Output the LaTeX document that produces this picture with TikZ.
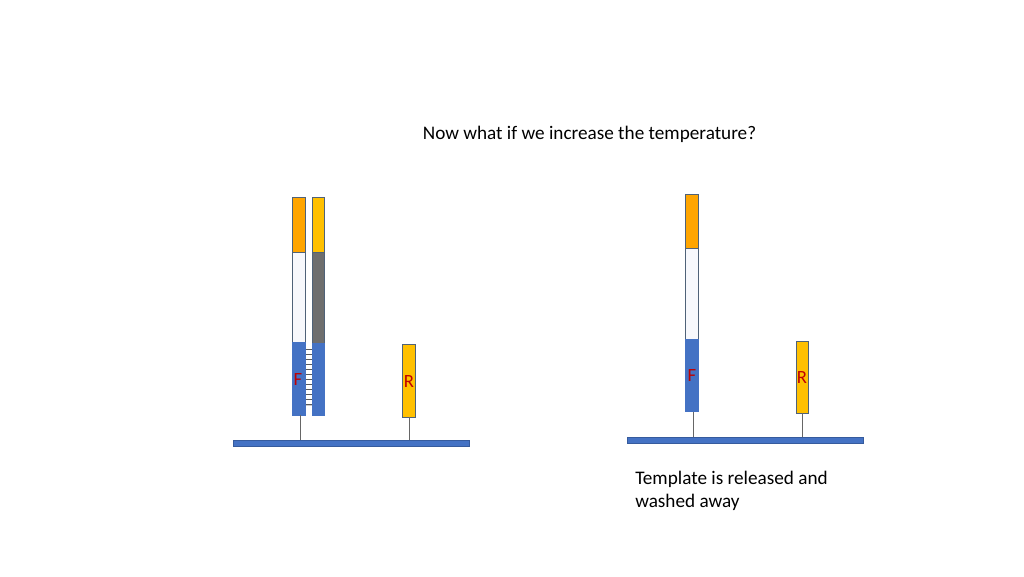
\documentclass[tikz,border=0pt]{standalone}
\usepackage{fontspec}
\setmainfont{Carlito}
\definecolor{cblue}{HTML}{4472C4}
\definecolor{corange}{HTML}{FFA500}
\definecolor{cyellow}{HTML}{FFC000}
\definecolor{cgray}{HTML}{6E6E6E}
\definecolor{cwhite}{HTML}{F7F8FC}
\definecolor{cedge}{HTML}{4F6278}
\definecolor{cred}{HTML}{C00000}
\begin{document}
\begin{tikzpicture}[x=0.75pt,y=-0.75pt,
  seg/.style={draw=cedge,line width=0.5pt},
  base/.style={fill=cblue,draw=cblue!80!black,line width=0.3pt},
  stem/.style={draw=gray!80!black,line width=0.5pt},
  lab/.style={text=cred,font=\fontsize{14}{16}\selectfont,inner sep=0pt},
  txt/.style={font=\fontsize{14.4}{17.25}\selectfont,inner sep=0pt}]
\useasboundingbox (0,0) rectangle (1024,576);
% title
\node[txt,anchor=base] (title) at (589.5,139) {Now what if we increase the temperature?};
% ---------- left group
\fill[base] (233,440) rectangle (469,446);
\coordinate (lbar1) at (300.5,440);
\coordinate (lbar2) at (409,440);
% ladder
\foreach \yy in {349,354,...,405} \draw[gray!70!black,line width=0.5pt] (305,\yy) -- (312.3,\yy);
\draw[gray!40,line width=0.5pt] (305,405) -- (312.3,405);
% left strand
\filldraw[seg,fill=corange] (292.3,197.3) rectangle (305,252.3);
\filldraw[seg,fill=cwhite] (292.3,252.3) rectangle (305,342);
\filldraw[seg,fill=cblue,draw=cblue] (292.3,342) rectangle (305,415);
\coordinate (lF) at (300.5,415);
% right strand
\filldraw[seg,fill=cyellow] (312.3,197.3) rectangle (324.7,252);
\filldraw[seg,fill=cgray] (312.3,252) rectangle (324.7,343.3);
\filldraw[seg,fill=cblue,draw=cblue] (312.3,343.3) rectangle (324.7,415.7);
% R primer
\filldraw[seg,fill=cyellow] (402.7,344) rectangle (415.3,417);
\coordinate (lR) at (409,417);
\draw[stem] (lF) -- (lbar1);
\draw[stem] (lR) -- (lbar2);
\node[lab] (lFl) at (298,380) {F};
\node[lab] (lRl) at (409,382) {R};
% ---------- right group
\fill[base] (626.7,436.7) rectangle (863.3,443.3);
\coordinate (rbar1) at (693.3,436.7);
\coordinate (rbar2) at (802.3,436.7);
\filldraw[seg,fill=corange] (685.3,194) rectangle (698.3,248.7);
\filldraw[seg,fill=cwhite] (685.3,248.7) rectangle (698.3,339);
\filldraw[seg,fill=cblue,draw=cblue] (685.3,339) rectangle (698.3,411.7);
\coordinate (rF) at (693.3,411.7);
\filldraw[seg,fill=cyellow] (796,341) rectangle (808.7,413.3);
\coordinate (rR) at (802.3,413.3);
\draw[stem] (rF) -- (rbar1);
\draw[stem] (rR) -- (rbar2);
\node[lab] (rFl) at (692,376) {F};
\node[lab] (rRl) at (802,378) {R};
% caption
\node[txt,anchor=base west] (cap1) at (635,484) {Template is released and};
\node[txt,anchor=base west] (cap2) at (635,507) {washed away};
\end{tikzpicture}
\end{document}
